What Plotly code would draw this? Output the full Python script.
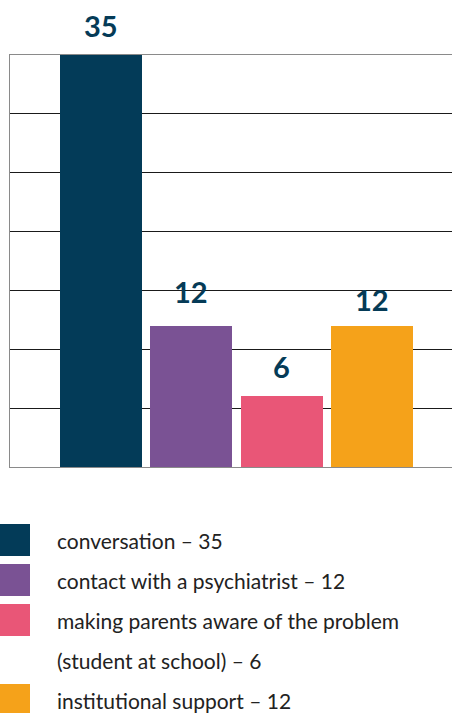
import plotly.graph_objects as go

categories = ["conversation", "contact with a psychiatrist",
              "making parents aware of the problem\n(student at school)", "institutional support"]
values = [35, 12, 6, 12]
colors = ["#033b58", "#7a5294", "#e95677", "#f5a21a"]
label_shift = [30, 34, 30, 26]

W, H = 452, 713
L, R, T, B = 10, 0, 55, 246
plot_w = W - L - R
plot_h = H - T - B

def px_x(px):
    return (px - L) / plot_w

def px_y(py):
    return (H - B - py) / plot_h

fig = go.Figure()
fig.add_trace(go.Bar(
    x=list(range(len(values))), y=values,
    marker=dict(color=colors, line=dict(width=0)),
    width=0.908, showlegend=False, hoverinfo="skip",
))

for i, v in enumerate(values):
    fig.add_annotation(x=i, y=v, xref="x", yref="y", text=f"<b>{v}</b>",
                       showarrow=False, yshift=label_shift[i], yanchor="middle",
                       font=dict(family="Lato", size=29, color="#053b57"))

# legend drawn manually
line_gap = 40
row_y = 540
for cat, v, c in zip(categories, values, colors):
    lines = cat.split("\n")
    fig.add_shape(type="rect", xref="paper", yref="paper",
                  x0=px_x(0), x1=px_x(30), y0=px_y(row_y - 16), y1=px_y(row_y + 16),
                  fillcolor=c, line=dict(width=0))
    for j, ln in enumerate(lines):
        txt = ln + (f" – {v}" if j == len(lines) - 1 else "")
        fig.add_annotation(x=px_x(55), y=px_y(row_y + j * line_gap), xref="paper", yref="paper",
                           text=txt, showarrow=False, xanchor="left", yanchor="middle",
                           font=dict(family="Lato", size=21, color="#222222"))
    row_y += line_gap * len(lines)

fig.update_layout(
    width=W, height=H,
    margin=dict(l=L, r=R, t=T, b=B, pad=0),
    paper_bgcolor="white", plot_bgcolor="white",
    xaxis=dict(range=[-1.007, 3.886], showticklabels=False, showgrid=False, zeroline=False,
               showline=True, linecolor="#8a8a8a", linewidth=1, mirror=True, ticks=""),
    yaxis=dict(range=[0, 35], dtick=5, showticklabels=False, showgrid=True,
               gridcolor="#1a1a1a", gridwidth=1, zeroline=False,
               showline=True, linecolor="#8a8a8a", linewidth=1, ticks=""),
    bargap=0,
)

fig.write_html("out.html", config={"displayModeBar": False},
               post_script="document.body.style.margin='0';document.body.style.overflow='hidden';")
